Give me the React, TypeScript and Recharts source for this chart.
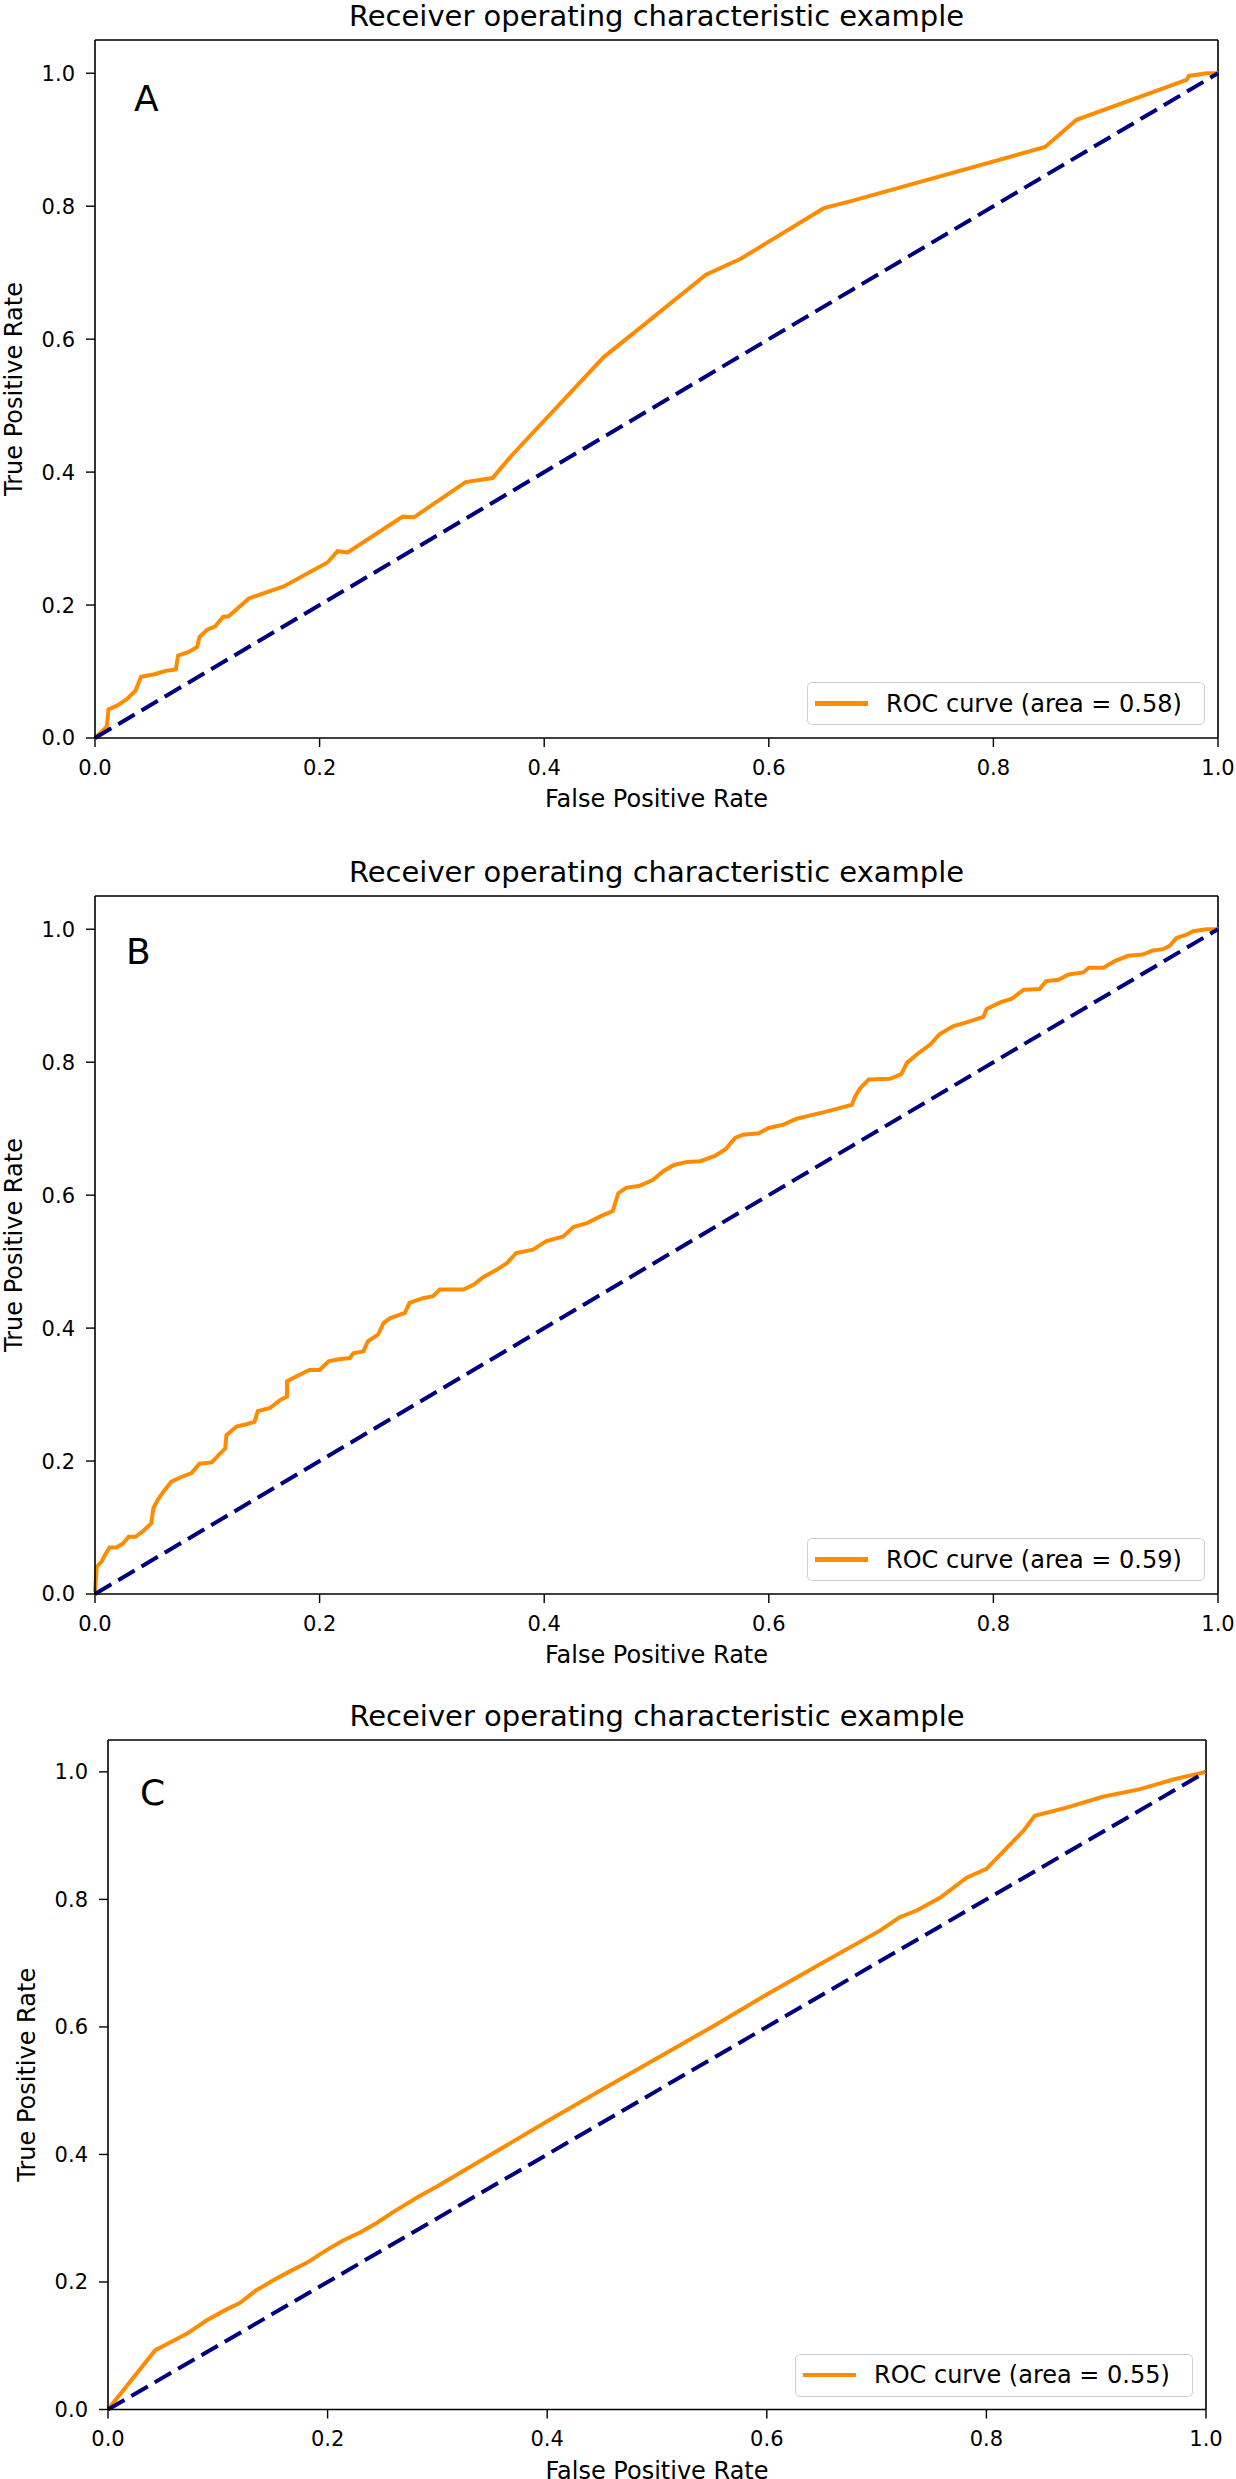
import { ComposedChart, Line, XAxis, YAxis, ReferenceLine, Label } from "recharts";

const axisTicks = [0, 0.2, 0.4, 0.6, 0.8, 1.0];
const titleText = "Receiver operating characteristic example";

// chance diagonal
const chanceFpr = [0, 1];
const chanceTpr = [0, 1];

// panel A
const fprA = [0, 0.0105, 0.012, 0.02, 0.028, 0.036, 0.041, 0.053, 0.063, 0.072, 0.074, 0.083, 0.091, 0.093, 0.1, 0.107, 0.114, 0.119, 0.137, 0.168, 0.207, 0.216, 0.225, 0.274, 0.284, 0.33, 0.354, 0.371, 0.453, 0.484, 0.544, 0.575, 0.649, 0.674, 0.846, 0.874, 0.972, 0.974, 0.99, 1.0];
const tprA = [0, 0.017, 0.043, 0.049, 0.058, 0.071, 0.092, 0.096, 0.101, 0.103, 0.124, 0.129, 0.137, 0.152, 0.163, 0.168, 0.182, 0.183, 0.21, 0.228, 0.264, 0.281, 0.279, 0.333, 0.332, 0.385, 0.391, 0.425, 0.573, 0.615, 0.697, 0.721, 0.797, 0.808, 0.889, 0.93, 0.99, 0.996, 1.0, 1.0];

// panel B
const fprB = [0, 0.0015, 0.006, 0.009, 0.013, 0.019, 0.025, 0.03, 0.036, 0.043, 0.05, 0.052, 0.056, 0.061, 0.068, 0.077, 0.086, 0.093, 0.104, 0.11, 0.116, 0.117, 0.126, 0.134, 0.142, 0.145, 0.156, 0.165, 0.171, 0.171, 0.18, 0.191, 0.2, 0.208, 0.217, 0.227, 0.23, 0.239, 0.243, 0.252, 0.257, 0.263, 0.276, 0.28, 0.292, 0.301, 0.307, 0.328, 0.337, 0.346, 0.358, 0.367, 0.375, 0.39, 0.402, 0.417, 0.426, 0.438, 0.45, 0.461, 0.466, 0.473, 0.485, 0.497, 0.506, 0.515, 0.527, 0.539, 0.552, 0.562, 0.57, 0.577, 0.591, 0.6, 0.613, 0.625, 0.637, 0.652, 0.663, 0.674, 0.677, 0.681, 0.689, 0.708, 0.718, 0.723, 0.732, 0.744, 0.752, 0.764, 0.776, 0.791, 0.794, 0.806, 0.816, 0.827, 0.841, 0.847, 0.858, 0.867, 0.88, 0.885, 0.898, 0.908, 0.92, 0.933, 0.942, 0.951, 0.957, 0.963, 0.972, 0.978, 0.99, 1.0];
const tprB = [0.003, 0.041, 0.049, 0.059, 0.07, 0.07, 0.076, 0.086, 0.086, 0.095, 0.106, 0.129, 0.142, 0.154, 0.169, 0.176, 0.182, 0.196, 0.198, 0.209, 0.219, 0.239, 0.252, 0.255, 0.259, 0.275, 0.28, 0.292, 0.297, 0.32, 0.328, 0.337, 0.337, 0.35, 0.353, 0.355, 0.362, 0.365, 0.38, 0.39, 0.408, 0.415, 0.423, 0.438, 0.445, 0.448, 0.458, 0.458, 0.465, 0.477, 0.488, 0.498, 0.513, 0.518, 0.531, 0.538, 0.552, 0.558, 0.568, 0.576, 0.603, 0.611, 0.614, 0.623, 0.636, 0.645, 0.65, 0.651, 0.659, 0.67, 0.686, 0.691, 0.693, 0.701, 0.706, 0.715, 0.72, 0.726, 0.731, 0.736, 0.749, 0.76, 0.774, 0.775, 0.782, 0.799, 0.812, 0.827, 0.842, 0.854, 0.86, 0.868, 0.88, 0.89, 0.895, 0.909, 0.91, 0.922, 0.924, 0.932, 0.935, 0.942, 0.942, 0.952, 0.96, 0.962, 0.968, 0.97, 0.975, 0.987, 0.992, 0.997, 1.0, 1.0];

// panel C
const fprC = [0, 0.043, 0.053, 0.072, 0.09, 0.108, 0.12, 0.135, 0.151, 0.166, 0.181, 0.199, 0.214, 0.23, 0.245, 0.26, 0.283, 0.3, 0.35, 0.4, 0.45, 0.5, 0.55, 0.6, 0.65, 0.703, 0.721, 0.737, 0.758, 0.782, 0.8, 0.834, 0.844, 0.873, 0.906, 0.94, 0.97, 1.0];
const tprC = [0, 0.093, 0.102, 0.119, 0.14, 0.157, 0.167, 0.187, 0.203, 0.217, 0.23, 0.25, 0.265, 0.278, 0.293, 0.31, 0.334, 0.35, 0.401, 0.452, 0.502, 0.551, 0.6, 0.651, 0.7, 0.751, 0.772, 0.783, 0.803, 0.834, 0.848, 0.908, 0.931, 0.944, 0.961, 0.973, 0.988, 1.0];

const FONT = "'DejaVu Sans', sans-serif";
const PAGE_W = 1236;

type Plot = { left: number; right: number; top: number; bottom: number };

interface PanelProps {
  top: number;
  height: number;
  plot: Plot;
  letter: string;
  letterDx: number;
  letterDy: number;
  fpr: number[];
  tpr: number[];
  area: string;
}

function toPoints(xs: number[], ys: number[]) {
  return xs.map((x, i) => ({ x, y: ys[i] }));
}

function RocPanel({ top, height, plot, letter, letterDx, letterDy, fpr, tpr, area }: PanelProps) {
  const curve = toPoints(fpr, tpr);
  const chance = toPoints(chanceFpr, chanceTpr);
  const plotW = plot.right - plot.left;
  const tickStyle = { fill: "#000", fontSize: 21, fontFamily: FONT };

  return (
    <div style={{ position: "absolute", left: 0, top, width: PAGE_W, height }}>
      <ComposedChart
        width={PAGE_W}
        height={height}
        margin={{ top: plot.top, right: PAGE_W - plot.right, bottom: 0, left: 0 }}
      >
        <XAxis
          type="number"
          dataKey="x"
          domain={[0, 1]}
          ticks={axisTicks}
          tickFormatter={(v: number) => v.toFixed(1)}
          height={height - plot.bottom}
          axisLine={{ stroke: "#000", strokeWidth: 1.6 }}
          tickLine={{ stroke: "#000", strokeWidth: 1.4 }}
          tickSize={9}
          tickMargin={13}
          tick={tickStyle}
        >
          <Label
            value="False Positive Rate"
            position="insideTop"
            offset={52}
            style={{ fontSize: 24, fontFamily: FONT, fill: "#000" }}
          />
        </XAxis>
        <YAxis
          type="number"
          domain={[0, 1.05]}
          ticks={axisTicks}
          tickFormatter={(v: number) => v.toFixed(1)}
          width={plot.left}
          axisLine={{ stroke: "#000", strokeWidth: 1.6 }}
          tickLine={{ stroke: "#000", strokeWidth: 1.4 }}
          tickSize={9}
          tickMargin={11}
          tick={tickStyle}
        >
          <Label
            value="True Positive Rate"
            angle={-90}
            position="insideLeft"
            offset={plot.left - 82}
            style={{ fontSize: 24, fontFamily: FONT, fill: "#000", textAnchor: "middle" }}
          />
        </YAxis>
        <ReferenceLine y={1.05} stroke="#000" strokeWidth={1.6} />
        <ReferenceLine x={1} stroke="#000" strokeWidth={1.6} />
        <Line
          data={curve}
          dataKey="y"
          type="linear"
          stroke="#ff8c00"
          strokeWidth={4}
          dot={false}
          activeDot={false}
          isAnimationActive={false}
        />
        <Line
          data={chance}
          dataKey="y"
          type="linear"
          stroke="#000080"
          strokeWidth={4}
          strokeDasharray="19 8"
          dot={false}
          activeDot={false}
          isAnimationActive={false}
        />
      </ComposedChart>

      {/* title */}
      <div
        style={{
          position: "absolute",
          left: plot.left,
          width: plotW,
          top: plot.top - 38,
          textAlign: "center",
          fontFamily: FONT,
          fontSize: 29,
          lineHeight: "29px",
          color: "#000",
          whiteSpace: "nowrap",
        }}
      >
        {titleText}
      </div>

      {/* panel letter */}
      <div
        style={{
          position: "absolute",
          left: plot.left + letterDx,
          top: plot.top + letterDy - 4,
          fontFamily: FONT,
          fontSize: 36,
          lineHeight: "36px",
          color: "#000",
        }}
      >
        {letter}
      </div>

      {/* legend */}
      <div
        style={{
          position: "absolute",
          left: plot.right - 13 - 398,
          top: plot.bottom - 13 - 43,
          width: 398,
          height: 43,
          boxSizing: "border-box",
          border: "1.5px solid #d0d0d0",
          borderRadius: 5,
          background: "rgba(255,255,255,0.8)",
          display: "flex",
          alignItems: "center",
          fontFamily: FONT,
          fontSize: 24,
          color: "#000",
          whiteSpace: "nowrap",
        }}
      >
        <div style={{ width: 53, height: 4.5, background: "#ff8c00", marginLeft: 7, marginRight: 18 }} />
        <span>{`ROC curve (area = ${area})`}</span>
      </div>
    </div>
  );
}

export default function App() {
  return (
    <div style={{ position: "absolute", left: 0, top: 0, width: PAGE_W, height: 2479, background: "#fff", overflow: "hidden" }}>
      <RocPanel
        top={0}
        height={830}
        plot={{ left: 95, right: 1218, top: 40, bottom: 738 }}
        letter="A"
        letterDx={39}
        letterDy={45}
        fpr={fprA}
        tpr={tprA}
        area="0.58"
      />
      <RocPanel
        top={830}
        height={840}
        plot={{ left: 95, right: 1218, top: 66, bottom: 764 }}
        letter="B"
        letterDx={31}
        letterDy={42}
        fpr={fprB}
        tpr={tprB}
        area="0.59"
      />
      <RocPanel
        top={1670}
        height={809}
        plot={{ left: 108, right: 1206, top: 70, bottom: 739.5 }}
        letter="C"
        letterDx={32}
        letterDy={39}
        fpr={fprC}
        tpr={tprC}
        area="0.55"
      />
    </div>
  );
}
